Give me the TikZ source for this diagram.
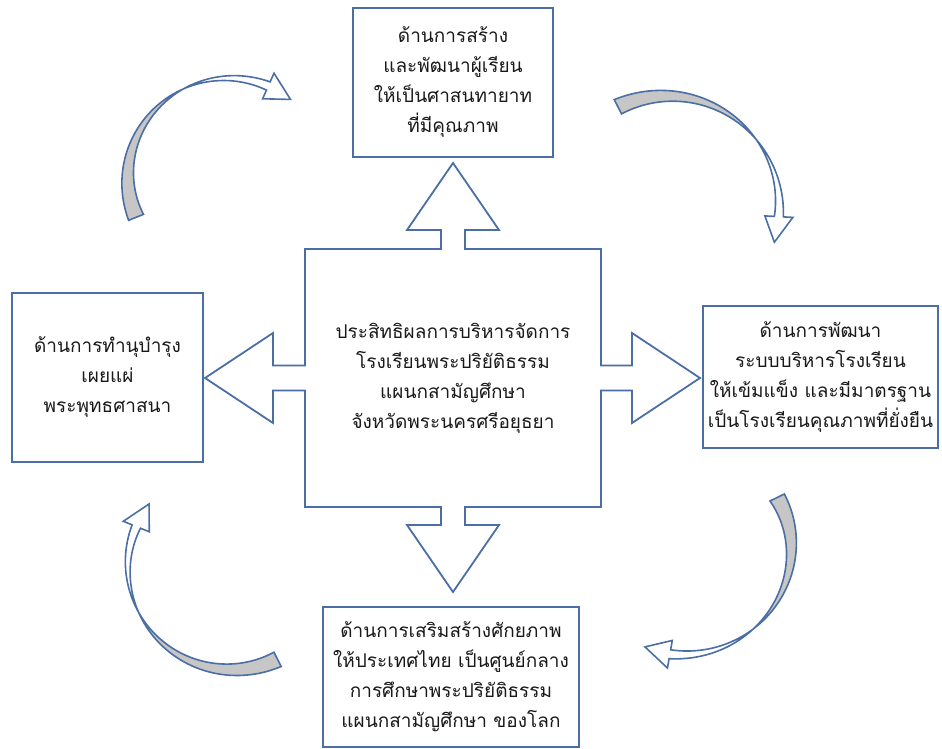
\documentclass[tikz,border=0pt]{standalone}
\usepackage{fontspec}
\usepackage{tikz}
\newfontfamily\thaifont[Script=Thai]{Loma}
\definecolor{shapeline}{RGB}{74,110,165}
\definecolor{ribbongray}{RGB}{198,198,198}
\definecolor{inkgray}{RGB}{25,25,25}

% ribbon arrow: centre x, centre y, tail angle, head angle, tail radius, head radius
\newcommand\wtail{8}
\newcommand\whead{4.5}
\newcommand\hhead{14}
\def\ribfrac{((\t-\tzero)/(\tone-\tzero))}
\def\ribA{(\rzero+(\rone-\rzero)*\ribfrac+(\wtail-(\wtail+\whead)*\ribfrac))}
\def\ribB{(\rzero+(\rone-\rzero)*\ribfrac-(\wtail-(\wtail+\whead)*\ribfrac))}
\newcommand\bentarrow[6]{%
  \def\cx{#1}\def\cy{#2}\def\tzero{#3}\def\tone{#4}\def\rzero{#5}\def\rone{#6}%
  \pgfmathsetmacro\tcross{#3+(#4-#3)*\wtail/(\wtail+\whead)}%
  \pgfmathsetmacro\ttip{#4-26/#6*57.3}%
  \fill[ribbongray] plot[domain=\tzero:\tcross,samples=30,variable=\t] ({\cx+\ribA*cos(\t)},{\cy-\ribA*sin(\t)})
    -- plot[domain=\tcross:\tzero,samples=30,variable=\t] ({\cx+\ribB*cos(\t)},{\cy-\ribB*sin(\t)}) -- cycle;
  \draw[ribbon] plot[domain=\tzero:\tone,samples=60,variable=\t] ({\cx+\ribA*cos(\t)},{\cy-\ribA*sin(\t)})
    -- ({\cx+(\rone-\hhead)*cos(\tone)},{\cy-(\rone-\hhead)*sin(\tone)})
    -- ({\cx+\rone*cos(\ttip)},{\cy-\rone*sin(\ttip)})
    -- ({\cx+(\rone+\hhead)*cos(\tone)},{\cy-(\rone+\hhead)*sin(\tone)})
    -- plot[domain=\tone:\tzero,samples=60,variable=\t] ({\cx+\ribB*cos(\t)},{\cy-\ribB*sin(\t)}) -- cycle;
}

\begin{document}
\begin{tikzpicture}[x=1pt,y=-1pt,
  thaitext/.style={font=\thaifont\fontsize{19}{30}\selectfont,text=inkgray,align=center},
  box/.style={thaitext,draw=shapeline,line width=1.8pt,inner sep=0pt},
  ribbon/.style={draw=shapeline,line width=1.6pt},
  crossline/.style={draw=shapeline,line width=1.8pt}]
	\useasboundingbox (0,0) rectangle (942,749);
	\node[thaitext] (core) at (453,378) {ประสิทธิผลการบริหารจัดการ\\โรงเรียนพระปริยัติธรรม\\แผนกสามัญศึกษา\\จังหวัดพระนครศรีอยุธยา};
	\begin{scope}[shift={(core.center)}]
	\draw[crossline] (-148,-129) -- (-12,-129) -- (-12,-148) -- (-46,-148) -- (0,-215) -- (46,-148) -- (12,-148) -- (12,-129)
	-- (148,-129) -- (148,-12.5) -- (179,-12.5) -- (179,-45) -- (247,0) -- (179,45) -- (179,12.5) -- (148,12.5)
	-- (148,129) -- (12,129) -- (12,147) -- (46,147) -- (0,214) -- (-46,147) -- (-12,147) -- (-12,129)
	-- (-148,129) -- (-148,12.5) -- (-180,12.5) -- (-180,45) -- (-248,0) -- (-180,-45) -- (-180,-12.5) -- (-148,-12.5) -- cycle;
	\end{scope}
	\node[box,minimum width=200pt,minimum height=149pt] (heirs) at (453,82.5) {ด้านการสร้าง\\และพัฒนาผู้เรียน\\ให้เป็นศาสนทายาท\\ที่มีคุณภาพ};
	\node[box,minimum width=235pt,minimum height=142pt] (system) at (820.5,377) {ด้านการพัฒนา\\ระบบบริหารโรงเรียน\\ให้เข้มแข็ง และมีมาตรฐาน\\เป็นโรงเรียนคุณภาพที่ยั่งยืน};
	\node[box,minimum width=256pt,minimum height=140pt] (hub) at (451,677) {ด้านการเสริมสร้างศักยภาพ\\ให้ประเทศไทย เป็นศูนย์กลาง\\การศึกษาพระปริยัติธรรม\\แผนกสามัญศึกษา ของโลก};
	\node[box,minimum width=191pt,minimum height=169pt] (dhamma) at (107.5,377.5) {ด้านการทำนุบำรุง\\เผยแผ่\\พระพุทธศาสนา};
	% cycle arrows, clockwise
	\bentarrow{226}{181}{202}{66}{97}{104}
	\bentarrow{671}{211}{117}{-3}{117}{108}
	\bentarrow{690}{540}{26}{-100}{97}{116}
	\bentarrow{229}{564}{297}{158}{107}{100}
\end{tikzpicture}
\end{document}
